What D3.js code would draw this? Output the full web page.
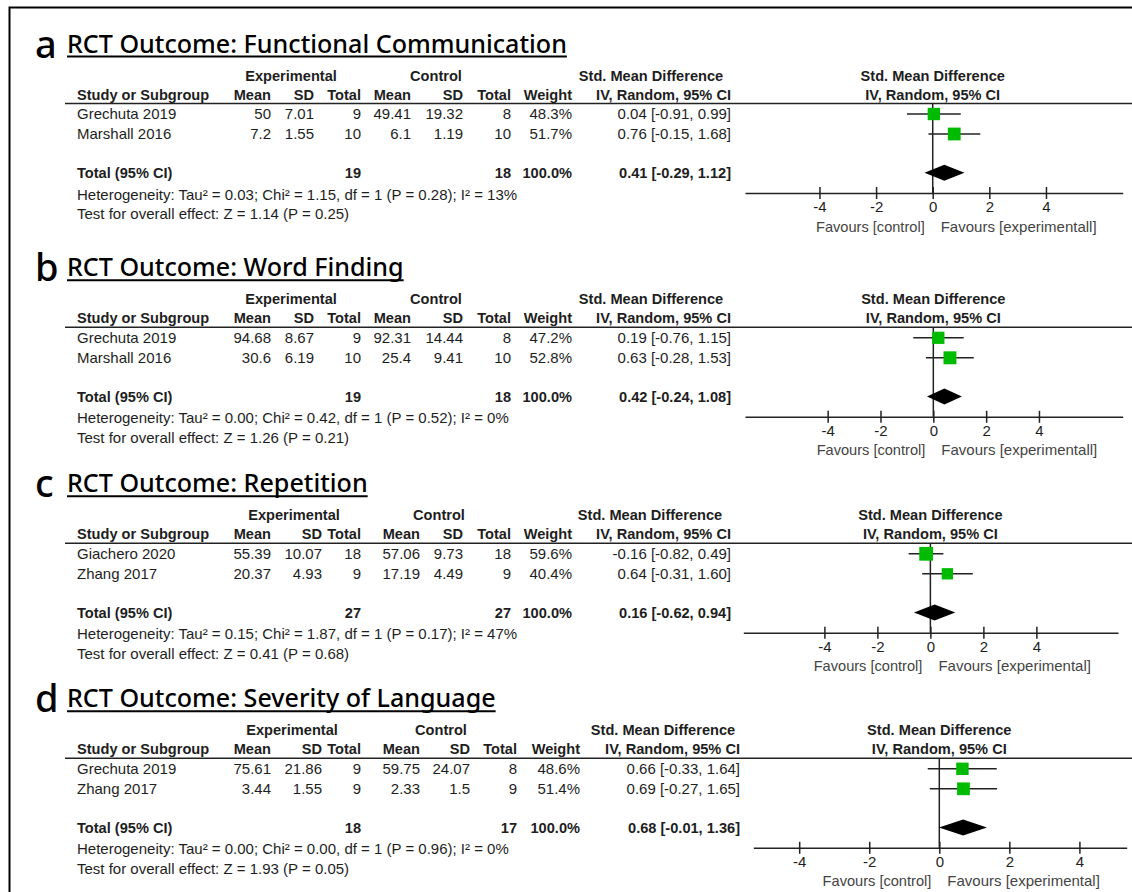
<!DOCTYPE html>
<html><head><meta charset="utf-8">
<script src="https://cdn.jsdelivr.net/npm/d3@7"></script>
<style>body{margin:0;background:#fff} svg{display:block}</style>
</head><body><svg id="chart" width="1132" height="892"></svg>
<script>
// ---------------- data ----------------
const panelLetters = ["a", "b", "c", "d"];
const panelTitles = [
  "RCT Outcome: Functional Communication",
  "RCT Outcome: Word Finding",
  "RCT Outcome: Repetition",
  "RCT Outcome: Severity of Language"
];
const studies = [
  ["Grechuta 2019", "Marshall 2016"],
  ["Grechuta 2019", "Marshall 2016"],
  ["Giachero 2020", "Zhang 2017"],
  ["Grechuta 2019", "Zhang 2017"]
];
const expMean = [[50, 7.2], [94.68, 30.6], [55.39, 20.37], [75.61, 3.44]];
const expSD   = [[7.01, 1.55], [8.67, 6.19], [10.07, 4.93], [21.86, 1.55]];
const expN    = [[9, 10], [9, 10], [18, 9], [9, 9]];
const ctlMean = [[49.41, 6.1], [92.31, 25.4], [57.06, 17.19], [59.75, 2.33]];
const ctlSD   = [[19.32, 1.19], [14.44, 9.41], [9.73, 4.49], [24.07, 1.5]];
const ctlN    = [[8, 10], [8, 10], [18, 9], [8, 9]];
const weights = [[48.3, 51.7], [47.2, 52.8], [59.6, 40.4], [48.6, 51.4]];
const smd     = [[0.04, 0.76], [0.19, 0.63], [-0.16, 0.64], [0.66, 0.69]];
const ciLow   = [[-0.91, -0.15], [-0.76, -0.28], [-0.82, -0.31], [-0.33, -0.27]];
const ciHigh  = [[0.99, 1.68], [1.15, 1.53], [0.49, 1.60], [1.64, 1.65]];
const totalExpN = [19, 19, 27, 18];
const totalCtlN = [18, 18, 27, 17];
const pooledSMD  = [0.41, 0.42, 0.16, 0.68];
const pooledLow  = [-0.29, -0.24, -0.62, -0.01];
const pooledHigh = [1.12, 1.08, 0.94, 1.36];
const heterogeneity = [
  "Heterogeneity: Tau\u00b2 = 0.03; Chi\u00b2 = 1.15, df = 1 (P = 0.28); I\u00b2 = 13%",
  "Heterogeneity: Tau\u00b2 = 0.00; Chi\u00b2 = 0.42, df = 1 (P = 0.52); I\u00b2 = 0%",
  "Heterogeneity: Tau\u00b2 = 0.15; Chi\u00b2 = 1.87, df = 1 (P = 0.17); I\u00b2 = 47%",
  "Heterogeneity: Tau\u00b2 = 0.00; Chi\u00b2 = 0.00, df = 1 (P = 0.96); I\u00b2 = 0%"
];
const overallEffect = [
  "Test for overall effect: Z = 1.14 (P = 0.25)",
  "Test for overall effect: Z = 1.26 (P = 0.21)",
  "Test for overall effect: Z = 0.41 (P = 0.68)",
  "Test for overall effect: Z = 1.93 (P = 0.05)"
];
const axisTicks = [-4, -2, 0, 2, 4];
const favoursControl = ["Favours [control]", "Favours [control]", "Favours [control]", "Favours [control]"];
const favoursExp = ["Favours [experimentall]", "Favours [experimentall]", "Favours [experimental]", "Favours [experimental]"];
const colHeaders = ["Mean", "SD", "Total", "Mean", "SD", "Total", "Weight", "IV, Random, 95% CI"];
const groupHeaders = ["Experimental", "Control", "Std. Mean Difference"];

// ---------------- layout (positions / styles only) ----------------
const layout = [
  { line: 103.5, cols: [271, 314, 361, 411, 463, 511, 572, 731], groups: [291, 436, 651],
    axisPx: [745, 1122.7], axisDom: [-6.63, 6.71] },
  { line: 327.3, cols: [271, 314, 361, 411, 463, 511, 572, 731], groups: [291, 436, 651],
    axisPx: [745, 1122.7], axisDom: [-7.13, 7.17] },
  { line: 543.3, cols: [271, 322, 361, 420, 463, 511, 572, 731], groups: [294, 439, 650],
    axisPx: [743.3, 1118], axisDom: [-7.06, 7.08] },
  { line: 758.3, cols: [271, 322, 361, 420, 470, 517, 580, 740], groups: [292, 441, 663],
    axisPx: [753.3, 1126.7], axisDom: [-5.31, 5.35] }
];
const tableFont = "'Liberation Sans',Arial,sans-serif";
const titleFont = "'Noto Sans','Open Sans',sans-serif";
const textColor = "#1e1e1e";
const green = "#00bb00";
const normalSize = 15, boldSize = 14.6;

const svg = d3.select("#chart");
svg.append("rect").attr("width", 1132).attr("height", 892).attr("fill", "#fff");
// frame (top + left visible)
svg.append("path").attr("d", "M9.5,892 L9.5,7.5 L1132,7.5").attr("fill", "none")
  .attr("stroke", "#000").attr("stroke-width", 2);

const fmt = v => String(v);
const f2 = v => v.toFixed(2);
const ciText = (m, l, h) => `${f2(m)} [${f2(l)}, ${f2(h)}]`;

panelLetters.forEach((letter, p) => {
  const L = layout[p];
  const g = svg.append("g");
  const y0 = L.line;
  const rowY = [y0 + 10.5, y0 + 30.5];
  const totalY = y0 + 69.3;
  const axisY = y0 + 89.5;

  // letter + title
  const titleBase = y0 - 51;
  g.append("text").attr("x", 35).attr("y", titleBase + 5).text(letter)
    .attr("font-family", titleFont).attr("font-size", 38).attr("font-weight", 500).attr("fill", "#000");
  const title = g.append("text").attr("x", 67).attr("y", titleBase).text(panelTitles[p])
    .attr("font-family", titleFont).attr("font-size", 25.1).attr("font-weight", 500).attr("fill", "#000");
  const tw = title.node().getComputedTextLength();
  g.append("line").attr("x1", 67).attr("x2", 67 + tw).attr("y1", y0 - 47).attr("y2", y0 - 47)
    .attr("stroke", "#000").attr("stroke-width", 2);

  const T = (x, y, s, anchor, bold) => g.append("text").attr("x", x).attr("y", y).text(s)
    .attr("text-anchor", anchor || "start").attr("font-family", tableFont)
    .attr("font-size", bold ? boldSize : normalSize).attr("font-weight", bold ? "bold" : "normal").attr("fill", textColor);

  // headers
  groupHeaders.forEach((h, i) => T(L.groups[i], y0 - 23, h, "middle", true));
  T(77, y0 - 4, "Study or Subgroup", "start", true);
  colHeaders.forEach((h, i) => T(L.cols[i], y0 - 4, h, "end", true));
  g.append("line").attr("x1", 65).attr("x2", 1132).attr("y1", y0).attr("y2", y0)
    .attr("stroke", "#222").attr("stroke-width", 1.6);

  // study rows
  studies[p].forEach((s, i) => {
    const y = rowY[i] + 5;
    T(77, y, s);
    const vals = [fmt(expMean[p][i]), fmt(expSD[p][i]), fmt(expN[p][i]), fmt(ctlMean[p][i]),
      fmt(ctlSD[p][i]), fmt(ctlN[p][i]), weights[p][i].toFixed(1) + "%",
      ciText(smd[p][i], ciLow[p][i], ciHigh[p][i])];
    vals.forEach((v, j) => T(L.cols[j], y, v, "end"));
  });
  // total row
  T(77, totalY + 5, "Total (95% CI)", "start", true);
  T(L.cols[2], totalY + 5, fmt(totalExpN[p]), "end", true);
  T(L.cols[5], totalY + 5, fmt(totalCtlN[p]), "end", true);
  T(L.cols[6], totalY + 5, "100.0%", "end", true);
  T(L.cols[7], totalY + 5, ciText(pooledSMD[p], pooledLow[p], pooledHigh[p]), "end", true);
  T(77, y0 + 96, heterogeneity[p]);
  T(77, y0 + 115.5, overallEffect[p]);

  // forest plot
  const x = d3.scaleLinear().domain(L.axisDom).range(L.axisPx);
  T(x(0), y0 - 23, groupHeaders[2], "middle", true);
  T(x(0), y0 - 4, colHeaders[7], "middle", true);

  // zero line
  g.append("line").attr("x1", x(0)).attr("x2", x(0)).attr("y1", y0).attr("y2", axisY)
    .attr("stroke", "#222").attr("stroke-width", 1.5);

  // CIs + squares
  studies[p].forEach((s, i) => {
    g.append("line").attr("x1", x(ciLow[p][i])).attr("x2", x(ciHigh[p][i]))
      .attr("y1", rowY[i]).attr("y2", rowY[i]).attr("stroke", "#222").attr("stroke-width", 1.5);
    const side = Math.sqrt(weights[p][i]) * 1.78;
    g.append("rect").attr("x", x(smd[p][i]) - side / 2).attr("y", rowY[i] - side / 2)
      .attr("width", side).attr("height", side).attr("fill", green);
  });
  // diamond
  const dh = 8;
  g.append("path").attr("d",
    `M${x(pooledLow[p])},${totalY} L${x(pooledSMD[p])},${totalY - dh} L${x(pooledHigh[p])},${totalY} L${x(pooledSMD[p])},${totalY + dh} Z`)
    .attr("fill", "#000");

  // axis
  const axis = d3.axisBottom(x).tickValues(axisTicks).tickSize(0).tickPadding(0).tickFormat(d => String(d));
  const ag = g.append("g").attr("transform", `translate(0,${axisY})`).call(axis);
  ag.select(".domain").attr("stroke", "#222").attr("stroke-width", 1.5);
  ag.selectAll(".tick line").attr("y1", -6).attr("y2", 6).attr("stroke", "#222").attr("stroke-width", 1.5);
  ag.selectAll(".tick text").attr("y", 19).attr("dy", null).attr("font-family", tableFont)
    .attr("font-size", 15).attr("fill", textColor);

  g.append("text").attr("x", x(0) - 8).attr("y", axisY + 38.5).attr("text-anchor", "end")
    .text(favoursControl[p]).attr("font-family", tableFont).attr("font-size", 14.6).attr("fill", "#444");
  g.append("text").attr("x", x(0) + 8).attr("y", axisY + 38.5).attr("text-anchor", "start")
    .text(favoursExp[p]).attr("font-family", tableFont).attr("font-size", 15).attr("fill", "#444");
});
</script></body></html>
